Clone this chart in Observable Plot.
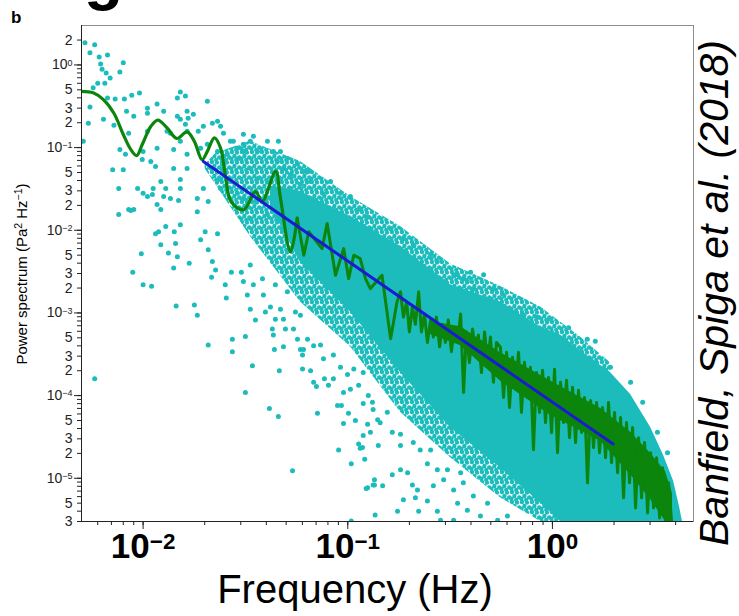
<!DOCTYPE html>
<html><head><meta charset="utf-8">
<script src="https://cdn.jsdelivr.net/npm/d3@7"></script>
<script src="https://cdn.jsdelivr.net/npm/@observablehq/plot@0.6"></script>
<style>
body{margin:0;background:#fff;}
#wrap{position:relative;width:739px;height:616px;overflow:hidden;font-family:"Liberation Sans",Arial,sans-serif;background:#fff;}
.ov{position:absolute;white-space:nowrap;color:#000;line-height:1;}
</style></head><body><div id="wrap"></div>
<script>
// ---------- data ----------
// smoothed spectrum (green)
const greenFreq = [0.0050,0.0057,0.0064,0.0072,0.0080,0.0087,0.0093,0.0099,0.0109,0.0118,0.0131,0.0146,0.0164,0.0178,0.0194,0.0206,0.0223,0.0239,0.0252,0.0269,0.0310,0.0354,0.0382,0.0444,0.0469,0.0525,0.0566,0.0610,0.0645,0.0749,0.0793,0.0871,0.0955,0.101,0.107,0.115,0.122,0.129,0.147,0.162,0.174,
0.181,0.187,0.194,0.200,0.207,0.214,0.222,0.229,0.237,0.245,0.254,0.262,0.271,0.281,0.290,0.300,0.310,0.321,0.332,0.344,0.356,0.368,0.380,0.393,0.407,0.421,0.435,0.450,0.466,0.482,0.498,0.515,0.533,
0.557,0.577,0.597,0.617,0.638,0.660,0.683,0.706,0.730,0.755,0.781,0.808,0.836,0.865,0.895,0.925,0.957,0.990,1.024,1.059,1.095,1.133,1.172,1.212,1.254,1.297,1.341,1.388,1.435,1.484,1.536,1.588,1.643,1.699,1.758,1.818,1.880,1.945,2.012,2.081,2.152,2.226,2.302,2.381,2.464,2.548,2.636,2.726,2.820,2.917,3.017,3.120,3.228,3.338,3.453,3.571,3.694,3.821];
const greenPower = [0.48,0.46,0.38,0.26,0.144,0.095,0.080,0.109,0.18,0.215,0.173,0.129,0.155,0.119,0.0715,0.090,0.131,0.099,0.047,0.0223,0.0177,0.0294,0.0223,0.0515,0.0244,0.0055,0.014,0.0050,0.0096,0.0060,0.0121,0.00286,0.0060,0.0026,0.0050,0.00456,0.0026,0.00197,0.00286,0.000486,0.00136,
0.0018,0.00089,0.00136,0.00059,0.00118,0.00073,0.0018,0.00059,0.00097,0.00044,0.00082,0.00051,0.00089,0.00039,0.00073,0.00044,0.00082,0.00034,0.00067,0.00044,0.00097,0.000109,0.00059,0.00025,0.00064,0.00034,0.00054,0.00019,0.00059,0.00024,0.00051,0.000145,0.00044,
3.85e-4,9.5e-5,3.35e-4,7.19e-5,2.91e-4,1.26e-4,3.35e-4,6.25e-5,2.53e-4,9.5e-5,2.20e-4,2.22e-5,1.91e-4,6.25e-5,2.02e-4,4.72e-5,1.66e-4,3.57e-5,2.08e-4,2.04e-5,1.45e-4,4.72e-5,1.53e-4,3.10e-5,1.26e-4,2.70e-5,1.16e-4,3.57e-5,9.5e-5,8.8e-6,8.74e-5,2.35e-5,8.26e-5,2.04e-5,7.19e-5,1.77e-5,8.26e-5,1.54e-5,6.25e-5,1.17e-5,5.43e-5,5.8e-6,4.72e-5,8.8e-6,4.11e-5,4.38e-6,3.10e-5,5.8e-6,2.70e-5,3.81e-6,2.04e-5,4.38e-6,1.77e-5,3.31e-6,1.34e-5,3.05e-6,8.8e-6,3.0e-6];

// body of the noisy green band at high frequency (envelope)
const bandFreq  = [0.254,0.356,0.557,0.979,1.72,2.41,3.02,3.57,3.86];
const bandUpper = [0.00078,0.00068,0.00033,0.000150,7.0e-5,3.6e-5,2.0e-5,1.2e-5,6.5e-6];
const bandLower = [0.00055,0.00040,0.000150,5.8e-5,2.8e-5,1.1e-5,5.5e-6,3e-6,3e-6];

// power-law fit (blue)
const blueFreq = [0.0197, 1.98];
const bluePower = [0.068, 2.6e-5];

// periodogram cloud: speckled (medium density) envelope
const midFreq  = [0.0201,0.0226,0.0334,0.0587,0.103,0.181,0.318,0.557,0.875,1.37,1.92];
const midUpper = [0.062,0.085,0.119,0.068,0.0256,0.0111,0.0039,0.0021,0.00118,0.00051,0.00025];
const midLower = [0.055,0.036,0.0084,0.00136,0.00039,6.3e-5,1.77e-5,5.8e-6,3e-6,3e-6,3e-6];
// periodogram cloud: solid (dense) envelope
const cloudFreq  = [0.0419,0.0587,0.103,0.181,0.318,0.557,0.875,1.095,1.37,1.92,2.41,3.02,3.49,3.91,4.18,4.32];
const cloudUpper = [0.034,0.0294,0.0146,0.0063,0.0022,0.00136,0.00067,0.00054,0.00035,0.00019,0.000103,4.1e-5,1.9e-5,9.2e-6,4.5e-6,3.0e-6];
const cloudLower = [0.0194,0.0041,0.00103,0.00019,4.1e-5,1.34e-5,5.0e-6,3e-6,3e-6,3e-6,3e-6,3e-6,3e-6,3e-6,3e-6,3e-6];

// scattered periodogram points
const dotFreq = [0.0052,0.0058,0.0055,0.0061,0.0067,0.0080,0.0062,0.0063,0.0066,0.0069,0.0077,0.0065,0.0060,0.0057,0.0096,0.0088,0.0067,0.0073,0.0081,0.0152,0.0147,0.0206,0.0105,0.0117,0.0055,0.0083,0.0090,0.0105,0.0126,0.0164,0.0147,0.0176,0.0054,0.0064,0.0072,0.0051,0.0085,0.0105,0.0131,0.0161,0.0197,0.0231,0.0276,0.0309,0.0117,0.0141,0.0100,0.0082,0.0164,0.0258,0.0152,0.0191,
0.0077,0.0071,0.0080,0.0076,0.0094,0.0100,0.0090,0.0076,0.0085,0.0111,0.0117,0.0136,0.0152,0.0152,0.0122,0.0115,0.0099,0.0109,0.0141,0.0164,0.0129,0.0119,0.0152,0.0184,0.0201,0.0231,0.0184,0.0197,0.0208,0.0239,0.0233,0.0267,0.0244,0.0292,0.0309,0.0334,0.0362,0.0289,0.0309,0.0354,0.0334,0.0405,0.0419,0.0469,0.0458,0.0507,0.0525,0.0608,0.0658,0.0587,0.0525,
0.0161,0.0218,0.0239,0.0247,0.0267,0.0166,0.0152,0.0186,0.0164,0.0136,0.0206,0.0231,0.0309,0.0289,0.0334,0.0362,0.0405,0.0433,0.0485,0.0419,0.0543,0.0658,0.0608,0.0681,
0.0105,0.0112,0.0129,0.0126,0.0087,0.0122,0.0149,0.0115,0.0142,0.0122,0.0144,0.0133,0.0147,0.0141,0.0098,0.0168,0.0089,0.0100,0.0110,0.0145,0.0178,0.0184,0.0191,0.0208,0.0218,0.0226,0.0216,0.0252,0.0255,0.0270,0.0302,0.0309,0.0334,0.0346,0.0323,0.0334,0.0354,0.0383,0.0387,0.0396,0.0419,0.0443,0.0469,0.0443,0.0485,0.0428,0.0433,0.0496,0.0543,0.0555,0.0587,0.0507,0.0568,0.0636,0.0608,0.0601,0.0208,0.0273,0.0273,0.0316,0.0438,0.0485,0.0342,0.0463,0.0601,0.0058,
0.0316,0.0414,0.0458,0.0537,0.0658,0.0681,0.0736,0.0761,0.0681,0.0703,0.0769,0.0805,0.0711,0.0891,0.0931,0.0953,0.1008,0.109,0.0902,0.104,0.113,0.115,0.121,0.125,0.119,0.123,0.135,0.135,0.136,0.104,0.119,0.132,0.126,0.133,0.0851,0.0921,0.0997,0.107,0.0851,0.0953,0.103,0.113,0.119,0.140,0.141,0.0587,
0.118,0.125,0.133,0.148,0.175,0.165,0.181,0.129,0.144,0.156,0.181,0.196,0.207,0.187,0.219,0.214,0.245,0.222,0.274,0.284,0.262,0.274,0.245,0.226,0.209,0.254,0.307,0.294,0.329,0.344,0.367,0.384,0.411,0.445,0.482,0.329,0.540,0.603,0.356,0.181,0.165,
0.516,0.570,0.714,0.846,0.946,1.20,1.48,1.62,1.92,2.41,2.76,3.26,3.65,0.461,0.398,0.344,0.384,
0.0346,0.0453,0.0568,0.0643,0.0824,0.0753,0.0921,0.103,0.115,0.125,0.162,0.185,0.209,0.254,0.274,0.329,0.367,0.411];
const dotPower = [1.85,1.75,1.40,1.25,1.32,1.06,1.03,0.89,0.80,0.695,0.82,0.60,0.60,0.53,0.457,0.43,0.397,0.386,0.386,0.47,0.397,0.365,0.30,0.336,0.309,0.276,0.24,0.261,0.276,0.276,0.24,0.254,0.197,0.221,0.187,0.119,0.149,0.158,0.158,0.192,0.181,0.209,0.119,0.11,0.098,0.095,0.090,0.083,0.083,0.083,0.119,0.098,
0.095,0.054,0.054,0.032,0.032,0.028,0.0178,0.0155,0.0178,0.027,0.0205,0.0242,0.032,0.041,0.039,0.059,0.072,0.068,0.056,0.056,0.0111,0.0096,0.0117,0.0168,0.0096,0.0091,0.0242,0.032,0.0223,0.032,0.041,0.039,0.063,0.074,0.090,0.056,0.042,0.028,0.0242,0.0223,0.0138,0.0155,0.0242,0.090,0.119,0.074,0.047,0.0515,0.039,0.036,0.032,
0.42,0.197,0.181,0.149,0.119,0.227,0.221,0.158,0.158,0.149,0.11,0.090,0.145,0.098,0.119,0.090,0.119,0.090,0.056,0.039,0.027,0.0242,0.0183,0.0168,
0.0256,0.032,0.032,0.0256,0.0173,0.0178,0.0229,0.0091,0.0096,0.0067,0.0069,0.0053,0.0048,0.0035,0.0052,0.0040,0.0031,0.0022,0.0021,0.00121,0.00125,0.00094,0.0077,0.0058,0.0042,0.0033,0.0027,0.0022,0.00152,0.0031,0.0031,0.0024,0.0038,0.0022,0.00165,0.00111,0.00082,0.0026,0.00165,0.00103,0.00118,0.0022,0.00111,0.00084,0.00084,0.00064,0.00054,0.00064,0.00064,0.00103,0.00094,0.0018,0.00048,0.00048,0.00036,0.00031,0.00041,0.00048,0.00034,0.00052,0.00036,0.00039,0.00023,0.00020,0.00021,0.00016,
0.000109,7.0e-5,5.6e-5,1.23e-5,0.00020,0.00040,0.00041,0.00028,0.000145,0.000129,0.00016,0.000133,6.1e-5,7.6e-5,7.6e-5,4.6e-5,6.1e-5,5.0e-5,2.2e-5,1.5e-5,2.6e-5,2.3e-5,1.7e-5,4.5e-5,3.3e-5,7.5e-6,9.6e-6,8.3e-6,3.6e-6,3.05e-6,8.0e-5,8.3e-5,0.0001,6.8e-5,0.00031,0.00022,0.00018,0.00021,0.00016,0.000109,0.000119,0.000133,0.00019,5.1e-5,2.5e-5,0.00036,
2.35e-5,7.7e-6,8.3e-6,8.1e-6,4.0e-6,1.1e-5,2.5e-5,3.6e-5,4.7e-5,6.3e-5,1.27e-5,1.17e-5,8.3e-6,5.5e-6,7.2e-6,5.8e-6,5.3e-6,4.0e-6,4.0e-6,3.1e-6,8.1e-6,1.27e-5,1.5e-5,2.2e-5,2.7e-5,2.2e-5,1.27e-5,9.6e-6,7.2e-6,5.0e-6,8.8e-6,4.1e-6,6.1e-6,3.5e-6,5.0e-6,3.1e-6,3.1e-6,3.5e-6,1.17e-5,3.4e-5,3.6e-5,
0.00195,0.0017,0.00097,0.00089,0.00082,0.00066,0.00048,0.000456,0.00022,0.000145,8.3e-5,3.6e-5,2.04e-5,0.0029,0.0031,0.0029,0.0024,
0.137,0.068,0.064,0.0515,0.039,0.028,0.028,0.0256,0.0178,0.0146,0.0104,0.0079,0.0067,0.0051,0.0042,0.0029,0.0026,0.00195];

// axis ticks and labels
const xMajorValues = [0.01, 0.1, 1];
const xMajorTexts  = ["10^−2", "10^−1", "10^0"];
const yMajorValues = [1, 0.1, 0.01, 0.001, 1e-4, 1e-5];
const yTickValues = [2,1,0.5,0.3,0.2,0.1,0.05,0.03,0.02,0.01,0.005,0.003,0.002,0.001,5e-4,3e-4,2e-4,1e-4,5e-5,3e-5,2e-5,1e-5,5e-6,3e-6];
const yTickTexts  = ["2","10^0","5","3","2","10^−1","5","3","2","10^−2","5","3","2","10^−3","5","3","2","10^−4","5","3","2","10^−5","5","3"];
const titleText = "Banfield, Spiga et al. (2018)";

// ---------- build ----------
const CYAN = "#1cbcbc", GREEN = "#0b850b", BLUE = "#1b1bd2", AX = "#222";
const W = 739, H = 616, ML = 81, MR = 46, MT = 25, MB = 95;
const FW = W - ML - MR, FH = H - MT - MB;
const greenData = greenFreq.map((f, i) => ({f, p: greenPower[i]}));
const bandData = bandFreq.map((f, i) => ({f, hi: bandUpper[i], lo: bandLower[i]}));
const blueData = blueFreq.map((f, i) => ({f, p: bluePower[i]}));
const midData = midFreq.map((f, i) => ({f, hi: midUpper[i], lo: midLower[i]}));
const cloudData = cloudFreq.map((f, i) => ({f, hi: cloudUpper[i], lo: cloudLower[i]}));
const dotData = dotFreq.map((f, i) => ({f, p: dotPower[i]}));

const yMinor = [];
for (let e = -6; e <= 0; e++) for (let m = 1; m <= 9; m++) {
  const v = +(m * Math.pow(10, e)).toPrecision(3);
  if (v >= 2.99e-6 && v <= 2.5) yMinor.push(v);
}
const xMinor = [];
for (let e = -3; e <= 0; e++) for (let m = 1; m <= 9; m++) {
  const v = +(m * Math.pow(10, e)).toPrecision(3);
  if (v >= 0.0055 && v <= 4.8) xMinor.push(v);
}

const plot = Plot.plot({
  width: W, height: H,
  marginTop: MT, marginLeft: ML, marginRight: MR, marginBottom: MB,
  x: {type: "log", domain: [0.005, 4.89], axis: null},
  y: {type: "log", domain: [3e-6, 3], axis: null},
  style: {fontFamily: "'Liberation Sans', Arial, sans-serif", background: "transparent", color: AX},
  marks: [
    Plot.areaY(midData, {x: "f", y1: "lo", y2: "hi", fill: "url(#speckle)", clip: true}),
    Plot.areaY(cloudData, {x: "f", y1: "lo", y2: "hi", fill: CYAN, clip: true}),
    Plot.dot(dotData, {x: "f", y: "p", r: 2.5, fill: CYAN, clip: true}),
    Plot.areaY(bandData, {x: "f", y1: "lo", y2: "hi", fill: GREEN, clip: true}),
    Plot.line(greenData, {filter: d => d.f <= 0.0566, x: "f", y: "p", stroke: GREEN, strokeWidth: 3.2, curve: "catmull-rom", clip: true}),
    Plot.line(greenData, {filter: d => d.f >= 0.0566, x: "f", y: "p", stroke: GREEN, strokeWidth: 3, strokeLinejoin: "round", clip: true}),
    Plot.line(blueData, {x: "f", y: "p", stroke: BLUE, strokeWidth: 3, clip: true}),
    Plot.frame({stroke: "#8e8e8e"}),
    Plot.ruleX([0.005], {stroke: AX}),
    Plot.ruleY([3e-6], {stroke: AX}),
    Plot.tickY(yMinor, {y: d => d, stroke: AX, dx: -4, insetRight: FW - 4}),
    Plot.tickY(yMajorValues, {y: d => d, stroke: AX, dx: -7, insetRight: FW - 7}),
    Plot.tickX(xMinor, {x: d => d, stroke: AX, dy: 4, insetTop: FH - 4}),
    Plot.tickX(xMajorValues, {x: d => d, stroke: AX, dy: 8, insetTop: FH - 8}),
    Plot.text(yTickValues, {y: d => d, text: (d, i) => yTickTexts[i], frameAnchor: "left", textAnchor: "end", dx: -9, fontSize: 14, fill: AX}),
    Plot.text(xMajorValues, {x: d => d, text: (d, i) => xMajorTexts[i], frameAnchor: "bottom", lineAnchor: "top", dy: 12, fontSize: 35, fontWeight: "bold", fill: "#000"})
  ]
});

// speckle pattern for the medium-density part of the cloud
const NS = "http://www.w3.org/2000/svg";
const defs = document.createElementNS(NS, "defs");
const pat = document.createElementNS(NS, "pattern");
pat.setAttribute("id", "speckle"); pat.setAttribute("width", "10"); pat.setAttribute("height", "10");
pat.setAttribute("patternUnits", "userSpaceOnUse");
[[2,2],[7,2.6],[4.4,6],[9.2,7.4],[1.4,8.6],[6.2,9.9]].forEach(([cx, cy]) => {
  for (const ox of [-10, 0, 10]) for (const oy of [-10, 0, 10]) {
    const c = document.createElementNS(NS, "circle");
    c.setAttribute("cx", cx + ox); c.setAttribute("cy", cy + oy); c.setAttribute("r", "2.2");
    c.setAttribute("fill", CYAN); pat.appendChild(c);
  }
});
defs.appendChild(pat);
plot.insertBefore(defs, plot.firstChild);

// superscripts for "10^k" labels
plot.querySelectorAll("text").forEach(t => {
  const s = t.textContent;
  const m = /^10\^(.+)$/.exec(s);
  if (!m) return;
  t.textContent = "";
  const a = document.createElementNS(NS, "tspan"); a.textContent = "10";
  const b = document.createElementNS(NS, "tspan"); b.textContent = m[1];
  b.setAttribute("dy", "-0.42em"); b.setAttribute("font-size", "0.64em");
  t.appendChild(a); t.appendChild(b);
});

const wrap = document.getElementById("wrap");
wrap.appendChild(plot);
plot.style.position = "absolute"; plot.style.left = "0"; plot.style.top = "0";

function ov(html, css) {
  const d = document.createElement("div");
  d.className = "ov"; d.innerHTML = html; d.style.cssText += css;
  wrap.appendChild(d); return d;
}
ov("g", "left:84px;top:-56px;font-size:64px;font-weight:bold;");
ov("b", "left:11px;top:9px;font-size:17px;font-weight:bold;");
ov(titleText, "left:714px;top:293px;font-size:41px;font-style:italic;transform:translate(-50%,-50%) rotate(-90deg);");
ov("Frequency (Hz)", "left:355px;top:589px;font-size:40px;transform:translate(-50%,-50%);");
ov("Power spectrum (Pa<span style='font-size:0.7em;position:relative;top:-0.45em'>2</span> Hz<span style='font-size:0.7em;position:relative;top:-0.45em'>−1</span>)",
   "left:21px;top:274px;font-size:15px;transform:translate(-50%,-50%) rotate(-90deg);");
</script></body></html>
